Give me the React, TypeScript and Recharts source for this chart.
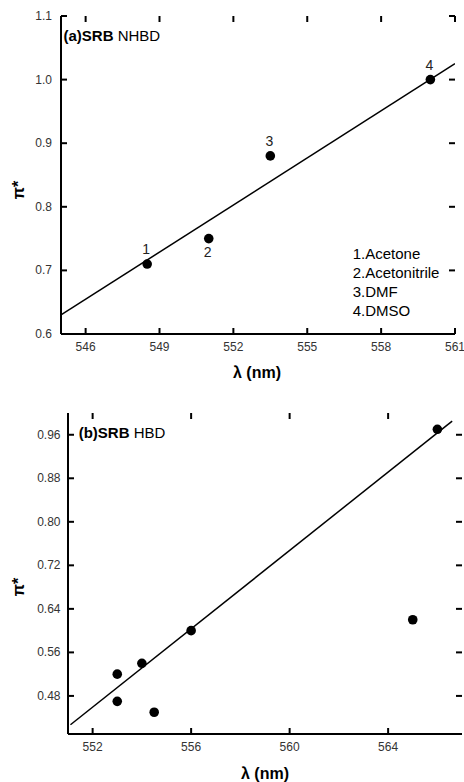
import React from 'react';
import { ScatterChart, Scatter, XAxis, YAxis, ReferenceLine } from 'recharts';

// ---- Panel (a): SRB NHBD ----
const solventsA = ['1.Acetone', '2.Acetonitrile', '3.DMF', '4.DMSO'];
const lambdaA = [548.5, 551, 553.5, 560];
const piA = [0.71, 0.75, 0.88, 1.0];
const pointLabelsA = ['1', '2', '3', '4'];
const labelSideA = ['above', 'below', 'above', 'above'];
const fitLambdaA = [545, 561];
const fitPiA = [0.63, 1.025];
const xTicksA = [546, 549, 552, 555, 558, 561];
const yTicksA = [0.6, 0.7, 0.8, 0.9, 1.0, 1.1];
const xDomainA = [545, 561];
const yDomainA = [0.6, 1.1];

// ---- Panel (b): SRB HBD ----
const lambdaB = [553, 553, 554, 554.5, 556, 565, 566];
const piB = [0.52, 0.47, 0.54, 0.45, 0.6, 0.62, 0.97];
const fitLambdaB = [551.1, 566.6];
const fitPiB = [0.427, 0.985];
const xTicksB = [552, 556, 560, 564];
const yTicksB = [0.48, 0.56, 0.64, 0.72, 0.8, 0.88, 0.96];
const xDomainB = [551, 567];
const yDomainB = [0.41, 1.0];

const dataA = lambdaA.map((x, i) => ({ x, y: piA[i], label: pointLabelsA[i], side: labelSideA[i] }));
const fitA = fitLambdaA.map((x, i) => ({ x, y: fitPiA[i] }));
const dataB = lambdaB.map((x, i) => ({ x, y: piB[i], label: '', side: '' }));
const fitB = fitLambdaB.map((x, i) => ({ x, y: fitPiB[i] }));

const FONT = '"Liberation Sans", Arial, sans-serif';
const axisLineStyle = { stroke: '#000', strokeWidth: 2, shapeRendering: 'crispEdges' };
const TICK_PX = 6;

const makeTick = (side: 'bottom' | 'left' | 'none', fmt: ((v: number) => string) | null, gap: number) =>
  (props: any) => {
    const { x, y, payload } = props;
    const v = payload ? payload.value : 0;
    if (side === 'bottom' && fmt) {
      return (
        <text x={x} y={y + gap} textAnchor="middle" dominantBaseline="central" fontSize={12} fontFamily={FONT} fill="#333">
          {fmt(v)}
        </text>
      );
    }
    if (side === 'left' && fmt) {
      return (
        <text x={x - gap} y={y} textAnchor="end" dominantBaseline="central" fontSize={12} fontFamily={FONT} fill="#333">
          {fmt(v)}
        </text>
      );
    }
    return <g />;
  };

const DotShape = (props: any) => {
  const { cx, cy, payload } = props;
  if (cx == null || cy == null) return <g />;
  const dy = payload && payload.side === 'below' ? 13 : -15;
  return (
    <g>
      <circle cx={cx} cy={cy} r={4.8} fill="#000" />
      {payload && payload.label ? (
        <text
          x={cx - 1}
          y={cy + dy}
          textAnchor="middle"
          dominantBaseline="central"
          fontSize={14}
          fontFamily={FONT}
          fill="#222"
        >
          {payload.label}
        </text>
      ) : null}
    </g>
  );
};

const EmptyShape = () => <g />;

type PanelProps = {
  width: number;
  height: number;
  margin: { top: number; right: number; left: number; bottom: number };
  yAxisWidth: number;
  xAxisHeight: number;
  xDomain: number[];
  yDomain: number[];
  xTicks: number[];
  yTicks: number[];
  data: any[];
  fit: any[];
  xTickFmt: (v: number) => string;
  yTickFmt: (v: number) => string;
  xGap: number;
  yGap: number;
};

const Panel = (p: PanelProps) => {
  const plotW = p.width - p.margin.left - p.margin.right - p.yAxisWidth;
  const plotH = p.height - p.margin.top - p.margin.bottom - p.xAxisHeight;
  const [x0, x1] = p.xDomain;
  const [y0, y1] = p.yDomain;
  const xLen = ((x1 - x0) * TICK_PX) / plotW;
  const yLen = ((y1 - y0) * TICK_PX) / plotH;
  const tickProps = { xAxisId: 'b', yAxisId: 'l', stroke: '#000', strokeWidth: 2, ifOverflow: 'visible' as const };
  return (
    <ScatterChart width={p.width} height={p.height} margin={p.margin}>
      <XAxis
        xAxisId="b"
        dataKey="x"
        type="number"
        orientation="bottom"
        domain={p.xDomain}
        ticks={p.xTicks}
        allowDataOverflow
        interval={0}
        height={p.xAxisHeight}
        tickSize={0}
        tickMargin={0}
        tick={makeTick('bottom', p.xTickFmt, p.xGap)}
        axisLine={axisLineStyle}
        tickLine={false}
      />
      <XAxis
        xAxisId="t"
        dataKey="x"
        type="number"
        orientation="top"
        domain={p.xDomain}
        ticks={p.xTicks}
        allowDataOverflow
        interval={0}
        height={0}
        tickSize={0}
        tick={makeTick('none', null, 0)}
        axisLine={axisLineStyle}
        tickLine={false}
      />
      <YAxis
        yAxisId="l"
        dataKey="y"
        type="number"
        orientation="left"
        domain={p.yDomain}
        ticks={p.yTicks}
        allowDataOverflow
        interval={0}
        width={p.yAxisWidth}
        tickSize={0}
        tickMargin={0}
        tick={makeTick('left', p.yTickFmt, p.yGap)}
        axisLine={axisLineStyle}
        tickLine={false}
      />
      <YAxis
        yAxisId="r"
        dataKey="y"
        type="number"
        orientation="right"
        domain={p.yDomain}
        ticks={p.yTicks}
        allowDataOverflow
        interval={0}
        width={0}
        tickSize={0}
        tick={makeTick('none', null, 0)}
        axisLine={axisLineStyle}
        tickLine={false}
      />
      {p.xTicks.map((t) => (
        <ReferenceLine key={`xb${t}`} {...tickProps} segment={[{ x: t, y: y0 }, { x: t, y: y0 + yLen }]} />
      ))}
      {p.xTicks.map((t) => (
        <ReferenceLine key={`xt${t}`} {...tickProps} segment={[{ x: t, y: y1 }, { x: t, y: y1 - yLen }]} />
      ))}
      {p.yTicks.map((t) => (
        <ReferenceLine key={`yl${t}`} {...tickProps} segment={[{ x: x0, y: t }, { x: x0 + xLen, y: t }]} />
      ))}
      {p.yTicks.map((t) => (
        <ReferenceLine key={`yr${t}`} {...tickProps} segment={[{ x: x1, y: t }, { x: x1 - xLen, y: t }]} />
      ))}
      <Scatter
        xAxisId="b"
        yAxisId="l"
        data={p.fit}
        line={{ stroke: '#000', strokeWidth: 1.5 }}
        shape={EmptyShape}
        isAnimationActive={false}
        legendType="none"
      />
      <Scatter
        xAxisId="b"
        yAxisId="l"
        data={p.data}
        shape={DotShape}
        isAnimationActive={false}
        legendType="none"
      />
      <Scatter
        xAxisId="t"
        yAxisId="r"
        data={p.data}
        shape={EmptyShape}
        isAnimationActive={false}
        legendType="none"
      />
    </ScatterChart>
  );
};

export default function App() {
  return (
    <div style={{ position: 'absolute', left: 0, top: 0, width: 464, height: 782, background: '#fff', fontFamily: FONT }}>
      {/* Panel (a) */}
      <div style={{ position: 'absolute', left: 0, top: 0 }}>
        <Panel
          width={464}
          height={385}
          margin={{ top: 16, right: 9, left: 0, bottom: 6 }}
          yAxisWidth={61}
          xAxisHeight={45}
          xDomain={xDomainA}
          yDomain={yDomainA}
          xTicks={xTicksA}
          yTicks={yTicksA}
          data={dataA}
          fit={fitA}
          xTickFmt={(v: number) => String(v)}
          yTickFmt={(v: number) => v.toFixed(1)}
          xGap={13}
          yGap={9}
        />
      </div>
      {/* Panel (b) */}
      <div style={{ position: 'absolute', left: 0, top: 390 }}>
        <Panel
          width={464}
          height={392}
          margin={{ top: 23, right: 2, left: 0, bottom: 3 }}
          yAxisWidth={68}
          xAxisHeight={45}
          xDomain={xDomainB}
          yDomain={yDomainB}
          xTicks={xTicksB}
          yTicks={yTicksB}
          data={dataB}
          fit={fitB}
          xTickFmt={(v: number) => String(v)}
          yTickFmt={(v: number) => v.toFixed(2)}
          xGap={12.5}
          yGap={7.5}
        />
      </div>
      {/* Text overlay */}
      <svg width={464} height={782} style={{ position: 'absolute', left: 0, top: 0, pointerEvents: 'none' }}>
        <text x={63.5} y={35} dominantBaseline="central" fontSize={15} fontFamily={FONT} fill="#000">
          <tspan fontWeight="bold">(a)SRB</tspan>
          <tspan> NHBD</tspan>
        </text>
        {solventsA.map((s, i) => (
          <text key={s} x={352.7} y={253 + i * 19} dominantBaseline="central" fontSize={15} fontFamily={FONT} fill="#000">
            {s}
          </text>
        ))}
        <text x={257} y={372} textAnchor="middle" dominantBaseline="central" fontSize={16} fontWeight="bold" fontFamily={FONT} fill="#000">
          λ (nm)
        </text>
        <text x={18} y={190} textAnchor="middle" dominantBaseline="central" fontSize={16} fontWeight="bold" fontFamily={FONT} fill="#000" transform="rotate(-90 18 190)">
          π*
        </text>

        <text x={78.7} y={431.7} dominantBaseline="central" fontSize={15} fontFamily={FONT} fill="#000">
          <tspan fontWeight="bold">(b)SRB</tspan>
          <tspan> HBD</tspan>
        </text>
        <text x={265} y={773} textAnchor="middle" dominantBaseline="central" fontSize={16} fontWeight="bold" fontFamily={FONT} fill="#000">
          λ (nm)
        </text>
        <text x={18} y={587} textAnchor="middle" dominantBaseline="central" fontSize={16} fontWeight="bold" fontFamily={FONT} fill="#000" transform="rotate(-90 18 587)">
          π*
        </text>
      </svg>
    </div>
  );
}
